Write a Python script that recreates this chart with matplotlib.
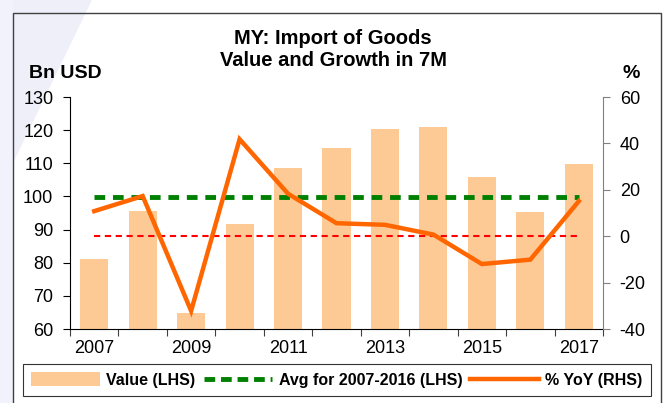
import matplotlib
matplotlib.use("Agg")
import matplotlib.pyplot as plt
import numpy as np
from matplotlib.patches import Rectangle, Polygon
from matplotlib.lines import Line2D

plt.rcParams['font.family'] = ['Liberation Sans', 'DejaVu Sans']

years = [2007, 2008, 2009, 2010, 2011, 2012, 2013, 2014, 2015, 2016, 2017]
value_lhs = [81.2, 95.5, 64.8, 91.8, 108.5, 114.5, 120.3, 120.9, 106.0, 95.2, 109.7]
yoy_rhs = [10.8, 17.3, -32.2, 41.8, 18.3, 5.6, 4.9, 0.7, -12.0, -10.1, 15.1]
avg_value = float(np.mean(value_lhs[:10]))
zero_line = 0
year_labels = [str(y) if (y - 2007) % 2 == 0 else "" for y in years]
left_ticks = [60, 70, 80, 90, 100, 110, 120, 130]
right_ticks = [-40, -20, 0, 20, 40, 60]

W, H = 667, 403
fig = plt.figure(figsize=(W / 100, H / 100), dpi=100)

# faint background watermark
wm = Polygon([[0, 1], [92 / W, 1], [0, 1 - 190 / H]], closed=True,
             transform=fig.transFigure, facecolor='#EEEFF9', edgecolor='none', zorder=-3)
fig.patches.append(wm)
fig.patches.append(Rectangle((0, 0), 13 / W, 1, transform=fig.transFigure,
                             facecolor='#F1F2FB', edgecolor='none', zorder=-3))
# outer frame
fig.patches.append(Rectangle((13 / W, -0.05), (661 - 13) / W, 1.05 - 13 / H, transform=fig.transFigure,
                             facecolor='none', edgecolor='#404040', linewidth=1.0, zorder=-2))

ax = fig.add_axes([70 / W, 1 - 329 / H, (603 - 70) / W, (329 - 97) / H])
ax.set_zorder(1)
ax.set_facecolor('none')
x = np.arange(len(years))
ax.bar(x, value_lhs, width=0.58, color='#FDCA96', zorder=1)
ax.set_xlim(-0.5, len(years) - 0.5)
ax.set_ylim(60, 130)
ax.set_yticks(left_ticks)
ax.set_yticklabels([str(t) for t in left_ticks], fontsize=13)
ax.plot([x[0], x[-1]], [avg_value, avg_value], color='#008000', linestyle=(0, (2.2, 1.6)),
        linewidth=3.5, zorder=3)

# boundary ticks on x axis
ax.set_xticks(np.arange(-0.5, len(years), 1.0), minor=False)
ax.set_xticklabels([])
ax.set_xticks(x, minor=True)
ax.set_xticklabels(year_labels, minor=True, fontsize=13)
ax.tick_params(axis='x', which='major', direction='out', length=5, width=0.8, color='#404040')
ax.tick_params(axis='x', which='minor', length=0, pad=8)
ax.tick_params(axis='y', direction='out', length=5, width=0.8, pad=7)
ax.spines['top'].set_visible(False)
ax.spines['right'].set_visible(False)

ax2 = ax.twinx()
ax2.set_zorder(2)
ax2.set_facecolor('none')
ax2.set_ylim(-40, 60)
ax2.set_yticks(right_ticks)
ax2.set_yticklabels([str(t) for t in right_ticks], fontsize=13)
ax2.plot([x[0], x[-1]], [zero_line, zero_line], color='#FF0000', linestyle=(0, (3, 2.2)),
         linewidth=1.5, zorder=2)
ax2.plot(x, yoy_rhs, color='#FF6600', linewidth=3.2, zorder=4, solid_joinstyle='miter')
ax2.spines['top'].set_visible(False)
ax2.spines['left'].set_visible(False)
ax2.spines['bottom'].set_visible(False)
ax2.spines['right'].set_color('#808080')
ax2.tick_params(axis='y', direction='out', length=5, width=0.8, color='#808080', pad=7)

fig.text(333 / W, 1 - 38 / H, "MY: Import of Goods", ha='center', va='center',
         fontsize=14.5, fontweight='bold')
fig.text(333 / W, 1 - 60 / H, "Value and Growth in 7M", ha='center', va='center',
         fontsize=14.5, fontweight='bold')
fig.text(29 / W, 1 - 73 / H, "Bn USD", ha='left', va='center', fontsize=14, fontweight='bold')
fig.text(631 / W, 1 - 73 / H, "%", ha='center', va='center', fontsize=14, fontweight='bold')

handles = [
    Rectangle((0, 0), 1, 1, facecolor='#FDCA96', edgecolor='none'),
    Line2D([], [], color='#008000', linestyle=(0, (2.2, 1.2)), linewidth=3.5),
    Line2D([], [], color='#FF6600', linewidth=3.2),
]
labels = ["Value (LHS)", "Avg for 2007-2016 (LHS)", "% YoY (RHS)"]
leg = fig.legend(handles, labels, loc='center', bbox_to_anchor=(337 / W, 1 - 380 / H),
                 ncol=3, frameon=True, fancybox=False, edgecolor='black',
                 prop={'weight': 'bold', 'size': 11.5}, handlelength=4.3, handleheight=0.9,
                 columnspacing=0.5, handletextpad=0.4, borderpad=0.5)
leg.get_frame().set_linewidth(0.8)

fig.savefig("out.png", dpi=100)
